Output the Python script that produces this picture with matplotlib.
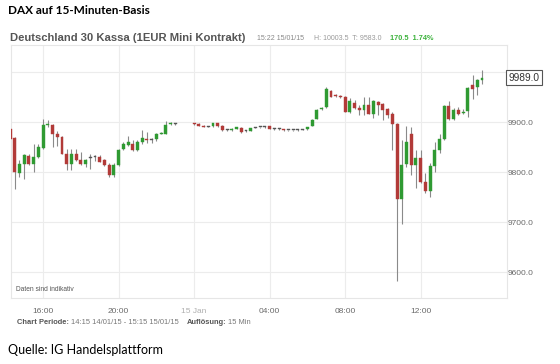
import numpy as np
import matplotlib
matplotlib.use("Agg")
import matplotlib.pyplot as plt

# 15-min candles, 14:15 14/01/15 .. 15:15 15/01/15 (nan = no quote)
nan = np.nan
opens = [9887, 9869, 9799, 9817, 9832, 9816, 9831, 9849, 9894, 9894,
         9877, 9871, 9837, 9817, 9837, 9825, 9817, 9829, 9831, 9831,
         9824, 9814, 9794, 9815, 9847, 9855, 9857, 9844, 9861, 9866,
         9864, 9867, 9877, 9877, 9897, 9898, nan, nan, nan, 9898,
         9897, 9893, 9891, 9892, 9898, 9893, 9885, 9884, 9887, 9889,
         9882, 9883, 9889, 9890, 9890, 9892, 9887, 9887, 9886, 9884,
         9884, 9884, 9885, 9886, 9893, 9907, 9926, 9930, 9963, 9955,
         9953, 9951, 9921, 9939, 9929, 9925, 9934, 9917, 9941, 9936,
         9927, 9917, 9897, 9747, 9817, 9876, 9814, 9829, 9781, 9762,
         9812, 9844, 9867, 9932, 9907, 9925, 9918, 9923, 9974, 9971,
         9985]
highs = [9891, 9871, 9824, 9837, 9836, 9857, 9857, 9907, 9904, 9897,
         9883, 9872, 9847, 9847, 9847, 9840, 9827, 9837, 9834, 9834,
         9827, 9818, 9818, 9846, 9860, 9872, 9864, 9864, 9884, 9880,
         9868, 9879, 9881, 9902, 9900, 9899, nan, nan, nan, 9899,
         9898, 9894, 9893, 9899, 9899, 9894, 9886, 9888, 9891, 9890,
         9884, 9889, 9891, 9891, 9892, 9893, 9888, 9888, 9886, 9885,
         9885, 9886, 9887, 9891, 9906, 9926, 9930, 9970, 9965, 9957,
         9955, 9952, 9948, 9944, 9934, 9951, 9951, 9944, 9942, 9938,
         9928, 9921, 9898, 9864, 9892, 9891, 9844, 9844, 9798, 9818,
         9861, 9876, 9934, 9943, 9928, 9931, 9927, 9971, 9994, 9987,
         10003.5]
lows = [9858, 9767, 9791, 9787, 9814, 9801, 9829, 9847, 9891, 9851,
        9853, 9837, 9805, 9805, 9823, 9814, 9810, 9806, 9822, 9820,
        9813, 9791, 9791, 9813, 9845, 9852, 9842, 9842, 9857, 9858,
        9858, 9863, 9876, 9876, 9895, 9895, nan, nan, nan, 9895,
        9892, 9890, 9890, 9891, 9891, 9883, 9882, 9883, 9886, 9879,
        9880, 9882, 9888, 9889, 9889, 9886, 9885, 9885, 9883, 9883,
        9883, 9883, 9884, 9885, 9892, 9906, 9925, 9929, 9950, 9950,
        9948, 9920, 9918, 9927, 9914, 9914, 9916, 9908, 9914, 9904,
        9908, 9844, 9583, 9697, 9811, 9794, 9768, 9778, 9758, 9751,
        9801, 9838, 9864, 9904, 9904, 9914, 9917, 9911, 9947, 9954,
        9977]
closes = [9867, 9801, 9817, 9834, 9816, 9831, 9851, 9894, 9896, 9876,
          9871, 9837, 9817, 9837, 9824, 9816, 9824, 9828, 9830, 9821,
          9815, 9794, 9815, 9845, 9857, 9861, 9844, 9861, 9869, 9864,
          9864, 9876, 9879, 9894, 9899, 9897, nan, nan, nan, 9896,
          9893, 9891, 9892, 9898, 9892, 9885, 9884, 9887, 9890, 9881,
          9883, 9888, 9890, 9890, 9891, 9887, 9887, 9886, 9884, 9884,
          9884, 9885, 9886, 9890, 9905, 9924, 9929, 9966, 9951, 9952,
          9950, 9921, 9943, 9929, 9925, 9934, 9917, 9943, 9934, 9925,
          9915, 9897, 9747, 9815, 9860, 9814, 9829, 9781, 9762, 9812,
          9844, 9867, 9932, 9907, 9925, 9917, 9921, 9969, 9967, 9984,
          9989]

tick_pos = [7, 23, 39, 55, 71, 87]
tick_labels = ["16:00", "20:00", "15 Jan", "04:00", "08:00", "12:00"]
y_ticks = [9600, 9700, 9800, 9900, 10000]
last_price = 9989.0

o = np.array(opens, float)
h = np.array(highs, float)
l = np.array(lows, float)
c = np.array(closes, float)
idx = np.arange(len(o))

green = "#2f9a32"
red = "#b23a38"
grey = "#555555"
sans = "Liberation Sans"

fig = plt.figure(figsize=(5.6, 3.64), dpi=100)
W, H = 560, 364


def px(x, y):
    return x / W, 1 - y / H


def text_row(x, y, parts):
    # draw several text pieces one after another on one line
    r = fig.canvas.get_renderer()
    for s, gap, kw in parts:
        t = fig.text(*px(x, y), s, va="center", ha="left", family=sans, **kw)
        x = x + t.get_window_extent(r).width + gap


ax = fig.add_axes([11 / W, 1 - 298 / H, (507 - 11) / W, (298 - 45) / H])

cols = []
for oo, cc in zip(o, c):
    if abs(cc - oo) < 2:
        cols.append(grey)
    elif cc > oo:
        cols.append(green)
    else:
        cols.append(red)

ax.vlines(idx, l, h, color="#8a8a8a", lw=0.8, zorder=2)
bottom = np.minimum(o, c)
height = np.maximum(np.abs(c - o), 1.6)
ax.bar(idx, height, bottom=bottom, width=0.62, color=cols, edgecolor=cols,
       lw=0.3, zorder=3)

ax.set_xlim(0.2, 105.3)
ax.set_ylim(9548, 10054)
ax.set_xticks(tick_pos)
ax.set_xticklabels(tick_labels, family=sans)
ax.set_yticks(y_ticks)
ax.set_yticklabels(["%.1f" % v for v in y_ticks], family=sans)
ax.yaxis.tick_right()
ax.tick_params(length=0, labelsize=6, labelcolor="#6a6a6a")
ax.tick_params(axis="x", pad=7)
ax.tick_params(axis="y", pad=0.5)
ax.get_xticklabels()[2].set_color("#b0b0b0")
ax.grid(True, color="#ececec", lw=0.8)
ax.set_axisbelow(True)
for s in ax.spines.values():
    s.set_color("#e6e6e6")
    s.set_linewidth(0.8)

# last price marker (sits on top of the 10000.0 label, as in the source)
ax.text(1.003, last_price, "%.1f" % last_price, transform=ax.get_yaxis_transform(),
        ha="left", va="center", fontsize=7.3, color="#333333", family=sans,
        zorder=10, clip_on=False,
        bbox=dict(boxstyle="square,pad=0.2", fc="white", ec="#555555", lw=0.8))

ax.text(0.01, 0.02, "Daten sind indikativ", transform=ax.transAxes,
        fontsize=4.8, color="#555555", va="bottom", family=sans)

# titles and header
fig.text(*px(8, 10), "DAX auf 15-Minuten-Basis", fontsize=8.5, fontweight="bold",
         family="Lato", va="center", ha="left")
fig.text(*px(10, 38), "Deutschland 30 Kassa (1EUR Mini Kontrakt)", fontsize=8.1,
         fontweight="bold", color="#555555", family=sans,
         va="center", ha="left")
text_row(257, 38, [("15:22 15/01/15", 10, dict(fontsize=5, color="#888888")),
                   ("H: 10003.5  T: 9583.0", 8, dict(fontsize=5, color="#999999")),
                   ("170.5  1.74%", 0, dict(fontsize=5.3, color="#3cb23c",
                                            fontweight="bold"))])

# footer
text_row(17, 322, [("Chart Periode:", 2, dict(fontsize=5.4, fontweight="bold",
                                              color="#555555")),
                   ("14:15 14/01/15 - 15:15 15/01/15", 8,
                    dict(fontsize=5.4, color="#777777")),
                   ("Auflösung:", 2, dict(fontsize=5.4, fontweight="bold",
                                          color="#555555")),
                   ("15 Min", 0, dict(fontsize=5.4, color="#777777"))])

fig.text(*px(8, 350), "Quelle: IG Handelsplattform", fontsize=9, family="Lato",
         va="center", ha="left")

fig.savefig("out.png", dpi=100)
